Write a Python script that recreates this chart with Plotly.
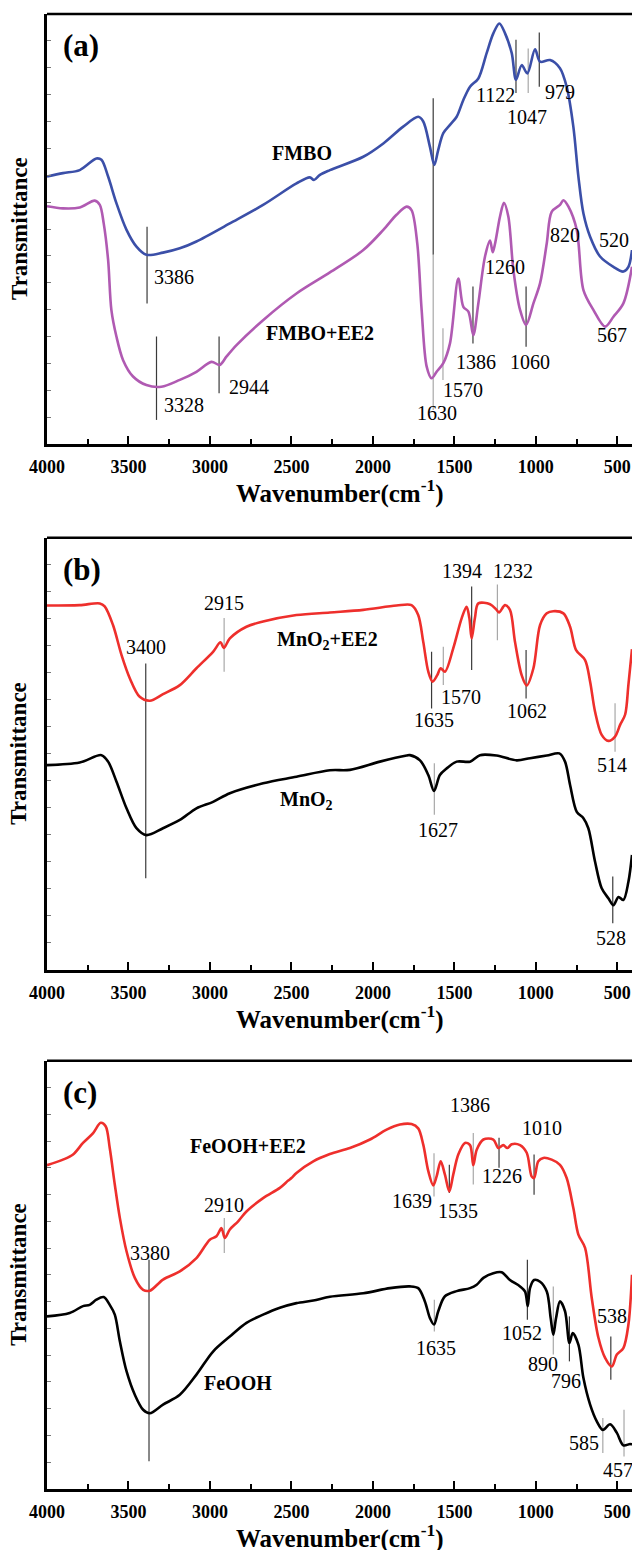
import plotly.graph_objects as go

# ---------------- data (wavenumber in cm^-1, transmittance in a.u.) ----------------
# Panel (a)
fmbo_w = [4000,3902,3799,3697,3666,3625,3574,3512,3451,3390,3288,3185,3083,2878,2674,2469,2387,2362,2325,2264,
          2059,1936,1814,1722,1691,1650,1623,1599,1568,1527,1486,1445,1404,1353,1302,1261,1224,1189,1148,1122,
          1087,1052,1005,974,913,852,811,770,739,708,667,606,524,463,432,410]
fmbo_t = [62.2,63.0,63.7,66.4,66.1,62.2,56.0,49.8,45.9,44.0,44.5,45.5,47.1,51.3,55.6,60.6,62.0,61.4,62.6,63.7,
          66.8,69.9,73.8,76.1,75.0,69.1,64.9,68.4,72.3,74.2,76.1,80.0,83.1,85.0,90.9,95.5,97.8,95.5,90.9,84.7,
          88.1,86.2,91.8,88.9,89.3,87.4,83.1,73.8,62.2,53.6,48.2,43.6,41.2,40.1,41.2,45.1]

fmbo_ee2_w = [4000,3902,3799,3707,3676,3652,3625,3605,3574,3533,3472,3390,3298,3185,3083,2991,2940,2899,2837,2674,
              2469,2264,2059,1936,1855,1793,1763,1728,1701,1670,1640,1609,1568,1527,1476,1445,1414,1384,1353,1312,
              1281,1265,1251,1220,1196,1169,1138,1097,1060,1015,974,933,903,852,831,800,749,708,647,575,524,463,410]
fmbo_ee2_t = [55.3,54.8,55.0,56.6,55.6,51.3,42.8,31.2,25.0,19.5,15.7,13.7,13.3,14.9,16.8,19.1,18.4,20.3,23.0,28.8,
              35.0,39.9,45.1,49.8,53.3,55.2,54.4,46.7,31.2,18.0,15.3,16.8,18.8,23.4,38.5,31.9,30.8,25.3,32.7,43.6,
              47.3,44.6,46.5,52.9,56.1,52.9,40.5,31.2,27.7,32.7,37.4,46.7,54.0,55.6,56.7,55.2,49.8,35.8,31.2,27.3,29.6,32.7,41.2]

# Panel (b)
mno2_ee2_w = [4000,3799,3676,3646,3595,3543,3492,3431,3369,3288,3185,3083,2981,2935,2915,2878,2776,2674,2469,2264,
              2059,1855,1763,1722,1691,1660,1634,1605,1584,1558,1507,1455,1425,1408,1394,1374,1353,1281,1241,1226,
              1189,1159,1128,1087,1056,1015,974,933,893,831,790,753,698,667,637,596,555,514,483,452,432,410]
mno2_ee2_t = [84.3,84.4,84.8,84.1,79.8,72.9,67.5,63.2,62.3,63.8,65.9,69.8,73.6,75.8,74.5,76.7,79.4,80.6,82.1,82.7,
              83.3,84.3,84.4,82.1,75.9,69.0,66.7,68.2,69.8,69.0,74.4,81.4,84.0,81.4,76.7,81.4,84.8,84.6,83.3,82.7,
              84.4,83.3,75.9,68.2,65.8,69.8,79.8,82.5,83.0,82.5,79.4,74.0,71.7,66.7,59.8,54.4,53.0,54.0,56.7,59.1,66.0,74.2]

mno2_w = [4000,3799,3666,3625,3574,3512,3451,3390,3288,3185,3083,2981,2878,2674,2469,2264,2141,1957,1793,1773,
          1711,1660,1625,1589,1548,1486,1404,1343,1241,1118,1036,933,856,821,790,749,708,678,637,596,555,524,493,463,432,410]
mno2_t = [47.4,48.0,49.7,48.2,43.6,37.4,32.8,31.2,32.8,34.7,37.4,38.9,40.9,43.2,44.7,46.2,46.3,48.2,49.6,49.7,
          48.5,45.1,41.4,45.1,46.6,48.2,48.2,49.7,49.6,48.5,49.0,49.6,50.1,48.2,42.8,36.6,35.1,32.8,25.1,18.9,16.6,15.0,16.9,16.2,20.4,26.6]

# Panel (c)
feooh_ee2_w = [4000,3902,3840,3779,3717,3670,3640,3615,3584,3553,3512,3461,3410,3369,3288,3185,3083,3001,2960,2929,
               2909,2878,2827,2776,2674,2571,2520,2500,2469,2366,2264,2141,2018,1916,1834,1763,1722,1691,1660,1630,
               1609,1584,1558,1531,1507,1476,1435,1404,1384,1363,1322,1261,1230,1200,1175,1148,1097,1056,1026,1011,
               985,954,903,852,811,770,739,698,657,616,575,534,503,463,432,410]
feooh_ee2_t = [75.6,76.9,78.1,80.8,83.1,85.5,84.7,79.6,71.1,63.3,55.5,49.3,46.5,46.3,48.9,50.8,53.9,58.2,59.0,60.9,
               58.6,60.6,62.5,64.8,67.9,70.3,72.0,72.6,73.8,76.5,78.2,79.6,81.6,83.9,85.1,85.2,84.2,80.4,74.2,70.9,
               73.0,76.5,73.4,69.5,73.4,78.1,80.8,80.3,75.6,79.2,81.6,81.6,79.6,80.3,79.6,80.5,80.3,78.5,73.0,72.6,
               76.5,77.3,76.9,75.7,72.6,65.6,59.4,56.3,44.6,35.3,30.6,28.6,31.4,32.9,38.4,50.0]

feooh_w = [4000,3861,3779,3738,3697,3652,3615,3584,3553,3512,3461,3410,3369,3288,3185,3083,2981,2878,2776,2674,
           2571,2469,2366,2264,2059,1895,1773,1722,1681,1650,1625,1599,1558,1486,1404,1363,1322,1261,1210,1159,
           1097,1066,1050,1036,1011,974,933,909,893,876,852,821,794,774,739,708,667,626,589,544,503,463,422,410]
feooh_t = [40.3,41.1,42.7,43.0,44.2,44.8,43.0,40.7,34.5,27.5,22.0,18.5,17.7,19.7,22.0,26.7,32.1,35.6,38.8,40.7,
           42.3,43.4,44.0,44.9,45.7,46.9,47.3,46.9,43.8,39.9,38.4,41.5,45.0,46.2,46.9,47.7,49.3,50.4,50.6,48.8,
           47.3,46.1,42.7,46.9,48.8,48.4,46.1,39.9,36.0,39.9,43.8,41.5,34.1,36.4,33.7,25.9,19.7,15.8,13.8,15.1,13.1,10.2,10.5,10.4]

# Peak marker lines: (wavenumber, from, to)
peaks_a_dark = [(3386, 50.5, 32.7), (3328, 25.0, 5.6), (2944, 25.0, 11.8), (1630, 80.4, 44.0),
                (1386, 36.6, 23.4), (1060, 36.6, 22.6), (1122, 94.0, 81.6), (979, 95.7, 83.1)]
peaks_a_light = [(1630, 44.0, 7.9), (1570, 26.9, 14.9), (1047, 92.0, 81.6)]
peaks_b_dark = [(3394, 70.9, 21.2), (1640, 73.6, 60.5), (1394, 88.7, 69.4), (1060, 74.0, 62.8), (528, 21.6, 10.8)]
peaks_b_light = [(2913, 81.4, 69.0), (1568, 74.8, 65.9), (1236, 89.2, 76.3), (514, 61.7, 50.5), (1623, 47.8, 35.9)]
peaks_c_dark = [(3374, 53.5, 6.5), (1531, 75.7, 69.1), (1226, 82.0, 75.0), (1011, 78.1, 68.7),
                (1052, 53.5, 39.5), (794, 40.3, 29.8), (540, 35.6, 25.5)]
peaks_c_light = [(2912, 63.3, 55.1), (1625, 78.4, 68.3), (1384, 83.1, 71.1), (893, 47.3, 31.4),
                 (589, 16.6, 8.4), (459, 18.5, 7.6), (1623, 44.2, 36.8)]

# Peak labels: (text, wavenumber, transmittance)
labels_a = [("3386", 3222, 38.9), ("3328", 3161, 9.1), ("2944", 2763, 13.3), ("1630", 1609, 7.1),
            ("1570", 1445, 12.6), ("1386", 1369, 19.1), ("1260", 1189, 41.2), ("1060", 1036, 19.1),
            ("820", 819, 48.6), ("520", 522, 47.4), ("567", 530, 25.3), ("1122", 1245, 81.2),
            ("1047", 1052, 76.1), ("979", 852, 81.9)]
labels_b = [("3400", 3394, 74.8), ("2915", 2913, 84.8), ("1635", 1625, 57.8), ("1570", 1462, 63.2),
            ("1394", 1455, 92.3), ("1232", 1142, 92.3), ("1062", 1052, 59.8), ("514", 534, 47.4),
            ("1627", 1599, 32.4), ("528", 540, 7.3)]
labels_c = [("3380", 3366, 55.1), ("2910", 2912, 66.4), ("1639", 1763, 67.2), ("1535", 1476, 64.8),
            ("1386", 1404, 89.7), ("1226", 1210, 73.0), ("1010", 960, 84.3), ("1052", 1087, 36.4),
            ("890", 954, 29.2), ("796", 815, 25.3), ("538", 534, 40.3), ("585", 704, 10.7),
            ("457", 498, 4.5), ("1635", 1613, 32.9)]

series_labels_a = [("FMBO", 2436, 67.6), ("FMBO+EE2", 2325, 25.7)]
series_labels_b = [("MnO<sub>2</sub>+EE2", 2276, 76.3), ("MnO<sub>2</sub>", 2405, 39.3)]
series_labels_c = [("FeOOH+EE2", 2768, 80.0), ("FeOOH", 2829, 24.7)]

panel_letters = ["(a)", "(b)", "(c)"]
x_ticks = [4000, 3500, 3000, 2500, 2000, 1500, 1000, 500]
x_minor = [3750, 3250, 2750, 2250, 1750, 1250, 750]

# ---------------- figure ----------------
W, H = 632, 1550
SERIF = "Liberation Serif"
BLUE, MAGENTA, RED, BLACK = "#3b4fa8", "#b05ab2", "#ee2f2c", "#000000"

panels = [
    dict(series=[(fmbo_w, fmbo_t, BLUE), (fmbo_ee2_w, fmbo_ee2_t, MAGENTA)],
         dark=peaks_a_dark, light=peaks_a_light, labels=labels_a, slabels=series_labels_a,
         top=14, bottom=444),
    dict(series=[(mno2_ee2_w, mno2_ee2_t, RED), (mno2_w, mno2_t, BLACK)],
         dark=peaks_b_dark, light=peaks_b_light, labels=labels_b, slabels=series_labels_b,
         top=537.7, bottom=970),
    dict(series=[(feooh_ee2_w, feooh_ee2_t, RED), (feooh_w, feooh_t, BLACK)],
         dark=peaks_c_dark, light=peaks_c_light, labels=labels_c, slabels=series_labels_c,
         top=1060.7, bottom=1489),
]

fig = go.Figure()
shapes, annotations = [], []
layout = {}
for i, p in enumerate(panels):
    n = "" if i == 0 else str(i + 1)
    xref, yref = "x" + n, "y" + n
    for (w, t, c) in p["series"]:
        fig.add_trace(go.Scatter(x=w, y=t, mode="lines", xaxis=xref, yaxis=yref,
                                 line=dict(color=c, width=2.6, shape="spline", smoothing=0.9),
                                 showlegend=False, hoverinfo="skip"))
    for group, col in ((p["dark"], "#3a3a3a"), (p["light"], "#a8a8a8")):
        for (wn, y0, y1) in group:
            shapes.append(dict(type="line", xref=xref, yref=yref, x0=wn, x1=wn, y0=y0, y1=y1,
                               line=dict(color=col, width=1.2), layer="below"))
    for (txt, wn, tv) in p["labels"]:
        annotations.append(dict(text=txt, x=wn, y=tv, xref=xref, yref=yref, showarrow=False,
                                font=dict(family=SERIF, size=20, color="black"),
                                xanchor="center", yanchor="middle"))
    for (txt, wn, tv) in p["slabels"]:
        annotations.append(dict(text="<b>" + txt + "</b>", x=wn, y=tv, xref=xref, yref=yref,
                                showarrow=False, font=dict(family=SERIF, size=20, color="black"),
                                xanchor="center", yanchor="middle"))
    annotations.append(dict(text="<b>" + panel_letters[i] + "</b>", x=3912, y=92.6, xref=xref, yref=yref,
                            showarrow=False, font=dict(family=SERIF, size=31, color="black"),
                            xanchor="left", yanchor="middle"))
    ph = p["bottom"] - p["top"]
    annotations.append(dict(text="<b>Wavenumber(cm<sup>-1</sup>)</b>", x=0.5, y=-47 / ph,
                            xref=xref + " domain", yref=yref + " domain", showarrow=False,
                            font=dict(family=SERIF, size=25, color="black"),
                            xanchor="center", yanchor="middle"))
    annotations.append(dict(text="<b>Transmittance</b>", x=-(47 - 19) / 585, y=0.5,
                            xref=xref + " domain", yref=yref + " domain", showarrow=False,
                            textangle=-90, font=dict(family=SERIF, size=23, color="black"),
                            xanchor="center", yanchor="middle"))
    shapes.append(dict(type="line", xref=xref + " domain", yref=yref + " domain",
                       x0=0, x1=1, y0=1, y1=1, line=dict(color="black", width=2.6)))
    layout["xaxis" + n] = dict(
        domain=[0, 1], anchor=yref, range=[4000, 410], autorange=False,
        showline=True, linecolor="black", linewidth=2.6, mirror=False,
        showgrid=False, zeroline=False,
        tickmode="array", tickvals=x_ticks, ticktext=["<b>%d</b>" % v for v in x_ticks],
        ticks="inside", ticklen=8, tickwidth=2, tickcolor="black",
        ticklabelstandoff=5,
        minor=dict(tickmode="array", tickvals=x_minor,
                   ticks="inside", ticklen=5, tickwidth=2, tickcolor="black"),
        tickfont=dict(family=SERIF, size=18, color="black"),
        automargin=False,
    )
    layout["yaxis" + n] = dict(
        domain=[(H - p["bottom"]) / H, (H - p["top"]) / H], anchor=xref,
        range=[0, 100], autorange=False,
        showline=True, linecolor="black", linewidth=2.6,
        showgrid=False, zeroline=False, showticklabels=False,
        tickmode="linear", tick0=0, dtick=6.25,
        ticks="inside", ticklen=4, tickwidth=1, tickcolor="#777777",
        automargin=False,
    )

fig.update_layout(
    width=W, height=H, template="none",
    margin=dict(l=47, r=0, t=0, b=0),
    paper_bgcolor="white", plot_bgcolor="white",
    shapes=shapes, annotations=annotations,
    font=dict(family=SERIF, color="black"),
    **layout,
)

fig.write_html("out.html")
